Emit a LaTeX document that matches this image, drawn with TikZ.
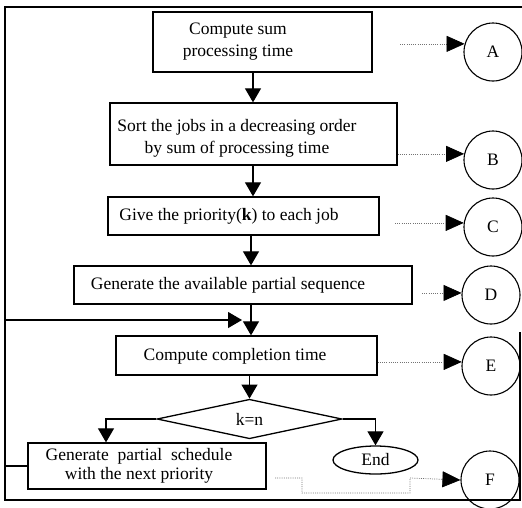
\documentclass[tikz,border=0pt]{standalone}
\usepackage{fontspec}
\setmainfont{Liberation Serif}
\usetikzlibrary{arrows.meta,shapes.geometric}
\begin{document}
\begin{tikzpicture}[x=1pt,y=-1pt,
  box/.style={draw, line width=1.3pt, inner sep=0pt},
  lbl/.style={font=\fontsize{17.5}{22}\selectfont, align=center, inner sep=0pt},
  flow/.style={line width=1.1pt, -{Triangle[length=14pt,width=16pt]}},
  dotarrow/.style={black!55, line width=0.7pt, dash pattern=on 1pt off 1.2pt, -{Triangle[length=18pt,width=16pt,black]}},
  circ/.style={draw, circle, line width=1.1pt, minimum size=58pt, inner sep=0pt, font=\fontsize{17.5}{22}\selectfont},
  frame/.style={line width=1.1pt}]
\useasboundingbox (0,0) rectangle (522,507);
% frame
\draw[frame] (522,7) -- (5,7) -- (5,500) -- (520,500) -- (520,332);
% boxes
\node[box, minimum width=219pt, minimum height=60pt] (b1) at (262.5,42) {};
\node[lbl] (t1) at (238,42) {Compute sum\\processing time};
\node[box, minimum width=287pt, minimum height=62pt] (b2) at (253.5,134) {};
\node[lbl] (t2) at (237,138.5) {Sort the jobs in a decreasing order\\by sum of processing time};
\node[box, minimum width=271pt, minimum height=38pt] (b3) at (243.5,216) {};
\node[lbl] (t3) at (229,216) {Give the priority(\textbf{k}) to each job};
\node[box, minimum width=338pt, minimum height=38pt] (b4) at (243,285) {};
\node[lbl] (t4) at (228,285) {Generate the available partial sequence};
\node[box, minimum width=261pt, minimum height=39pt] (b5) at (246.5,355.5) {};
\node[lbl] (t5) at (235,356) {Compute completion time};
\node[draw, diamond, line width=1.3pt, minimum width=185pt, minimum height=38pt, inner sep=0pt, font=\fontsize{17.5}{22}\selectfont] (d) at (249.5,419) {k=n};
\node[draw, ellipse, line width=1.3pt, minimum width=85pt, minimum height=28pt, inner sep=0pt, font=\fontsize{17.5}{22}\selectfont] (e) at (375.5,460) {End};
\node[box, minimum width=238pt, minimum height=46pt] (b6) at (147,466) {};
\node[lbl, font=\fontsize{17.5}{19}\selectfont] (t6) at (139,466) {Generate\ \ partial\ \ schedule\\with the next priority};
% circles
\node[circ] (A) at (493,52) {A};
\node[circ] (B) at (493,160) {B};
\node[circ] (C) at (493,227) {C};
\node[circ] (D) at (491,295) {D};
\node[circ] (E) at (491,366) {E};
\node[circ] (F) at (490,480) {F};
% flow arrows
\coordinate (x1) at (253,0);
\coordinate (x3) at (251,0);
\draw[flow] (b1.south -| x1) -- (b2.north -| x1);
\draw[flow] (b2.south -| x1) -- (b3.north -| x1);
\draw[flow] (b3.south -| x3) -- (b4.north -| x3);
\draw[flow] (b4.south -| x3) -- (b5.north -| x3);
\coordinate (lp) at (5,320);
\coordinate (lt) at (242,320);
\draw[flow] (b6.west) -| (lp) -- (lt);
\draw[flow] (b5.south -| d.north) -- (d.north);
\coordinate (lb) at (106,0);
\draw[flow] (d.west) -| (b6.north -| lb);
\draw[flow] (d.east) -| (e.north);
% dotted arrows to circles
\coordinate (sA) at (400,0);
\coordinate (sC) at (395,0);
\coordinate (sD) at (422,0);
\draw[dotarrow] (sA |- A.164) -- (A.164);
\draw[dotarrow] (b2.east |- B.168) -- (B.168);
\draw[dotarrow] (sC |- C.172) -- (C.172);
\draw[dotarrow] (sD |- D.176) -- (D.176);
\draw[dotarrow] (b5.east |- E.172) -- (E.172);
\coordinate (f1) at (275,478);
\coordinate (f2) at (302,478);
\coordinate (f3) at (302,493);
\coordinate (f4) at (410,493);
\coordinate (f5) at (410,478);
\draw[dotarrow] (f1) -- (f2) -- (f3) -- (f4) -- (f5) -- (F.180);
\end{tikzpicture}
\end{document}
